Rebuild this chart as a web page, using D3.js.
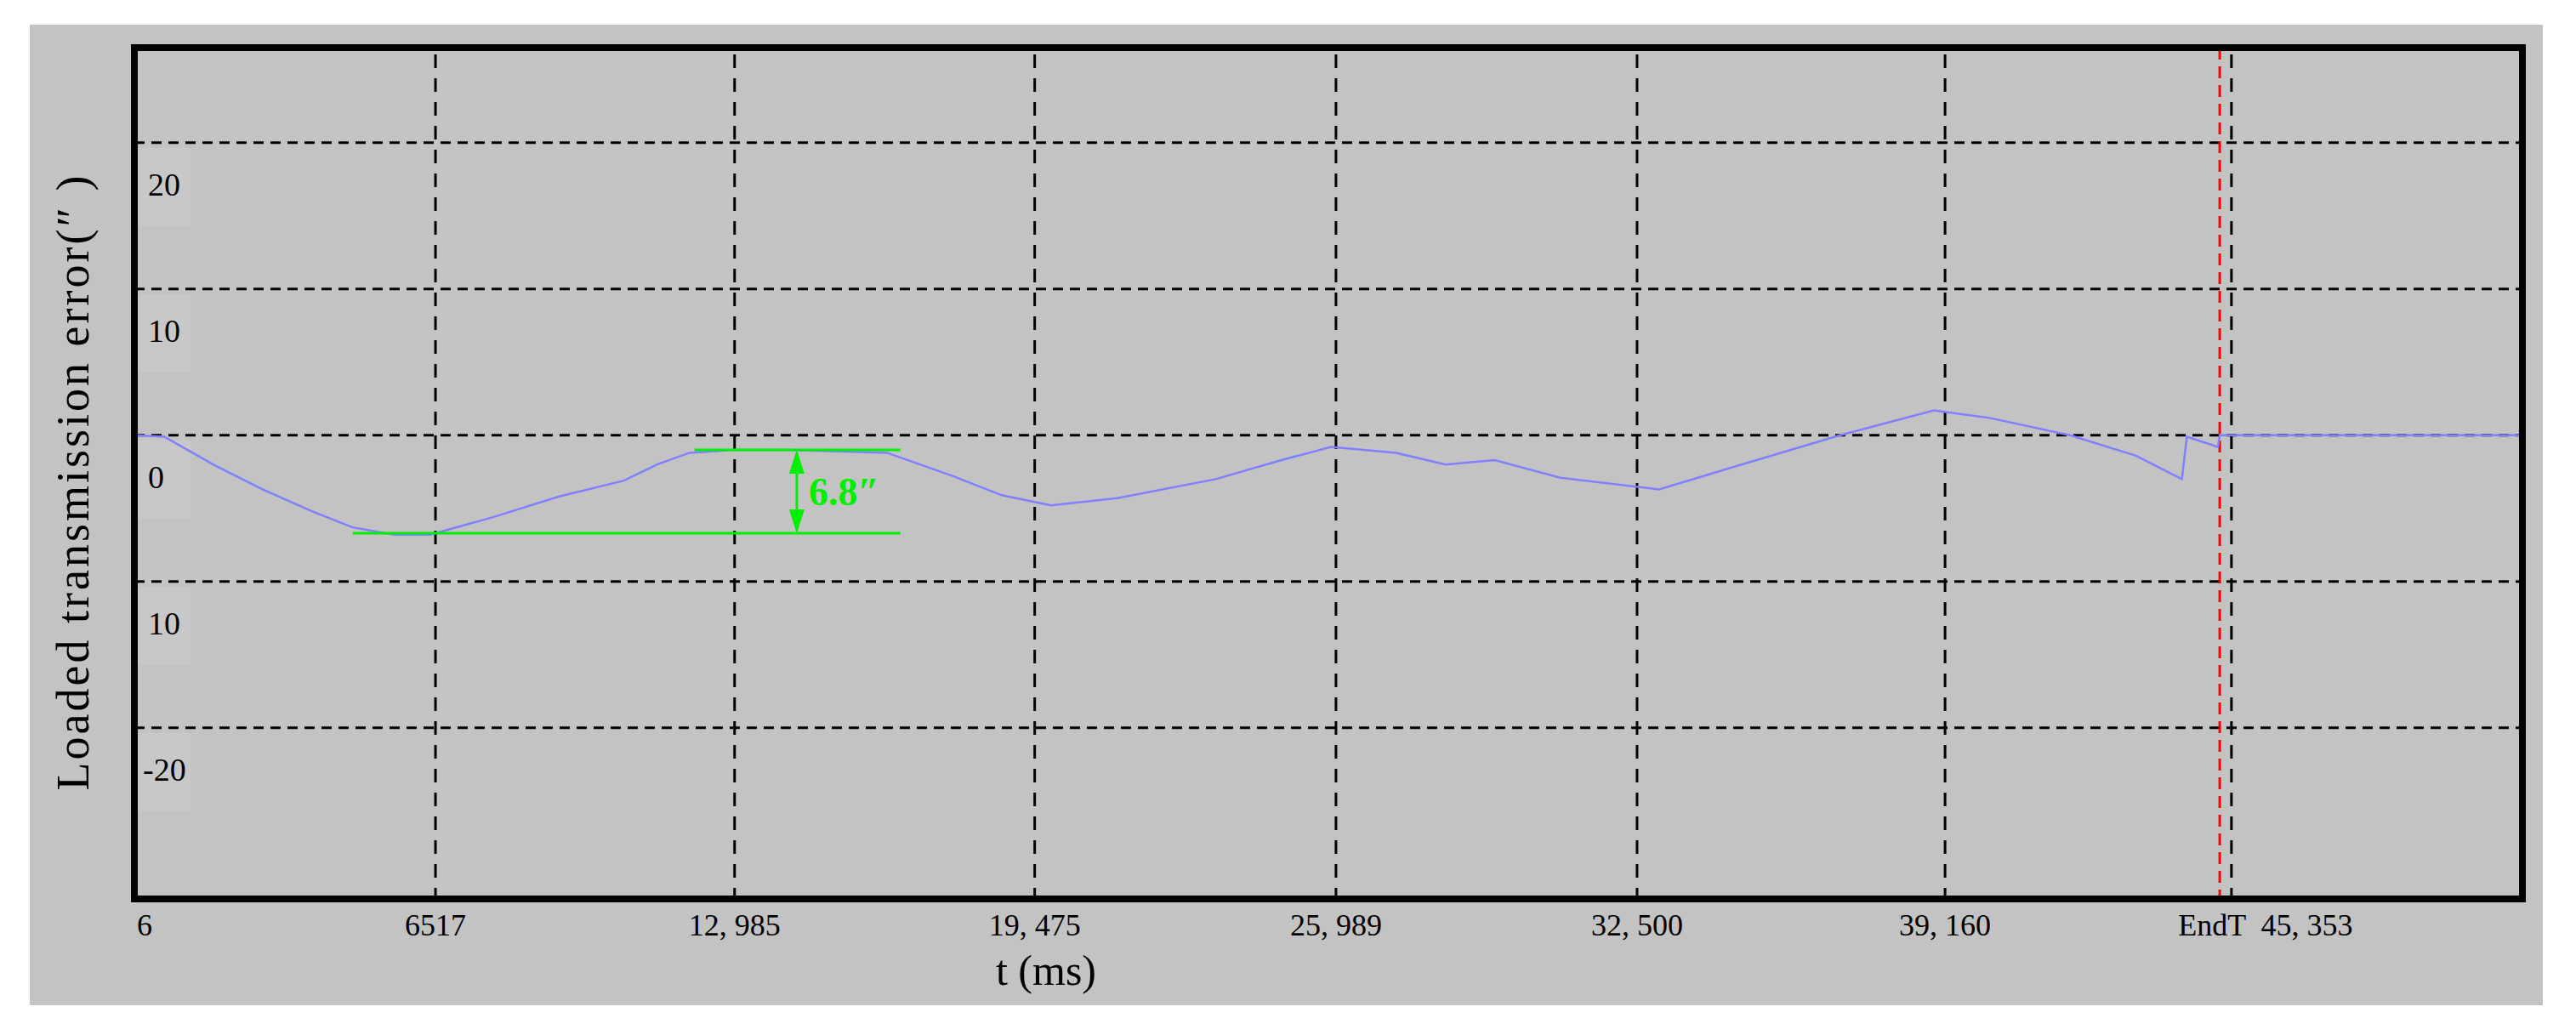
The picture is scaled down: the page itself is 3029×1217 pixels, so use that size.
<!DOCTYPE html>
<html><head><meta charset="utf-8">
<script src="https://cdn.jsdelivr.net/npm/d3@7"></script>
<style>body{margin:0;background:#fff}</style>
</head><body>
<svg width="3029" height="1217"></svg>
<script>
// data
var timeMs = [6, 650, 1710, 2777, 3844, 4726, 5627, 6400, 7760, 9176, 10590, 11310, 12010, 12980, 14140, 16280, 17710, 18760, 19830, 21260, 23390, 24810, 25880, 27290, 28360, 29420, 30840, 32980, 34760, 36890, 38920, 40100, 41860, 43290, 44280, 44390, 45060, 45100, 51640];
var errorVals = [0, -0.1, -2.0, -3.7, -5.2, -6.3, -6.8, -6.8, -5.6, -4.2, -3.1, -2.0, -1.2, -1.0, -1.0, -1.2, -2.8, -4.1, -4.8, -4.3, -3.0, -1.7, -0.8, -1.2, -2.0, -1.7, -2.9, -3.7, -2.0, 0, 1.7, 1.2, 0, -1.4, -3.0, -0.1, -0.8, 0, 0];
var xTicks = [6, 6517, 12985, 19475, 25989, 32500, 39160, 45353];
var xTickLabels = ['6', '6517', '12, 985', '19, 475', '25, 989', '32, 500', '39, 160', 'EndT  45, 353'];
var yTicks = [20, 10, 0, -10, -20];
var yTickLabels = ['20', '10', '0', '10', '-20'];
var endLine = 45100;
var annMin = -6.7, annMax = -1.0;

var svg = d3.select('svg');
var plot = {left: 158, right: 2966, top: 56, bottom: 1057};

svg.append('rect').attr('x', 35).attr('y', 29).attr('width', 2955).attr('height', 1153).attr('fill', '#c3c3c3');

var x = d3.scaleLinear().domain([6, 51645]).range([plot.left, plot.right]);
var y = d3.scaleLinear().domain([-31.7, 26.5]).range([plot.bottom, plot.top]);

var g = svg.append('g');

// grid
g.selectAll('.vg').data(xTicks).enter().append('line')
    .attr('x1', function (d) { return x(d); }).attr('x2', function (d) { return x(d); })
    .attr('y1', plot.top + 8).attr('y2', plot.bottom)
    .attr('stroke', '#000').attr('stroke-width', 3).attr('stroke-dasharray', '16,12');
g.selectAll('.hg').data(yTicks).enter().append('line')
    .attr('x1', plot.left).attr('x2', plot.right)
    .attr('y1', function (d) { return y(d); }).attr('y2', function (d) { return y(d); })
    .attr('stroke', '#000').attr('stroke-width', 3).attr('stroke-dasharray', '12,8');

// y tick labels inside plot
g.selectAll('.yb').data(yTicks).enter().append('rect')
    .attr('x', plot.left + 4).attr('y', function (d) { return y(d) + 6; })
    .attr('width', 62).attr('height', 92).attr('fill', '#c8c8c8');
g.selectAll('.yl').data(yTicks).enter().append('text')
    .attr('x', function (d, i) { return plot.left + (d < -15 ? 10 : 16); })
    .attr('y', function (d) { return y(d) + 62; })
    .attr('font-family', 'Liberation Serif').attr('font-size', 38)
    .text(function (d, i) { return yTickLabels[i]; });

// red end line
g.append('line').attr('x1', x(endLine)).attr('x2', x(endLine))
    .attr('y1', plot.top).attr('y2', plot.bottom)
    .attr('stroke', '#ff0000').attr('stroke-width', 3).attr('stroke-dasharray', '14,8');

// curve
var line = d3.line().x(function (d) { return x(d[0]); }).y(function (d) { return y(d[1]); });
g.append('path').datum(d3.zip(timeMs, errorVals)).attr('d', line)
    .attr('fill', 'none').attr('stroke', '#8080ff').attr('stroke-width', 2.5);

// annotation
var green = '#00ee00';
g.append('line').attr('x1', x(4726)).attr('x2', x(16570)).attr('y1', y(annMin)).attr('y2', y(annMin))
    .attr('stroke', green).attr('stroke-width', 3);
g.append('line').attr('x1', x(12120)).attr('x2', x(16570)).attr('y1', y(annMax)).attr('y2', y(annMax))
    .attr('stroke', green).attr('stroke-width', 3);
var ax = x(14330);
g.append('line').attr('x1', ax).attr('x2', ax).attr('y1', y(annMax) + 4).attr('y2', y(annMin) - 4)
    .attr('stroke', green).attr('stroke-width', 3);
g.append('path').attr('d', 'M' + ax + ',' + y(annMax) + 'l-9,28h18z').attr('fill', green);
g.append('path').attr('d', 'M' + ax + ',' + y(annMin) + 'l-9,-28h18z').attr('fill', green);
g.append('text').attr('x', ax + 14).attr('y', (y(annMax) + y(annMin)) / 2 + 16)
    .attr('font-family', 'Liberation Serif').attr('font-weight', 'bold').attr('font-size', 46)
    .attr('fill', green).text('6.8\u2033');

// frame
svg.append('rect').attr('x', plot.left).attr('y', plot.top)
    .attr('width', plot.right - plot.left).attr('height', plot.bottom - plot.top)
    .attr('fill', 'none').attr('stroke', '#000').attr('stroke-width', 8);

// x tick labels
svg.selectAll('.xl').data(xTicks).enter().append('text')
    .attr('x', function (d, i) { return i === 0 ? x(d) + 12 : (i === 7 ? x(d) + 40 : x(d)); })
    .attr('y', 1100)
    .attr('text-anchor', 'middle')
    .attr('font-family', 'Liberation Serif').attr('font-size', 36)
    .attr('xml:space', 'preserve')
    .style('white-space', 'pre')
    .text(function (d, i) { return xTickLabels[i]; });

svg.append('text').attr('x', 1230).attr('y', 1158).attr('text-anchor', 'middle')
    .attr('font-family', 'Liberation Serif').attr('font-size', 50).text('t (ms)');
svg.append('text').attr('transform', 'translate(104,' + ((plot.top + plot.bottom) / 2 + 10) + ') rotate(-90)')
    .attr('text-anchor', 'middle')
    .attr('font-family', 'Liberation Serif').attr('font-size', 54)
    .attr('letter-spacing', 3)
    .text('Loaded transmission error(\u2033 )');
</script>
</body></html>
